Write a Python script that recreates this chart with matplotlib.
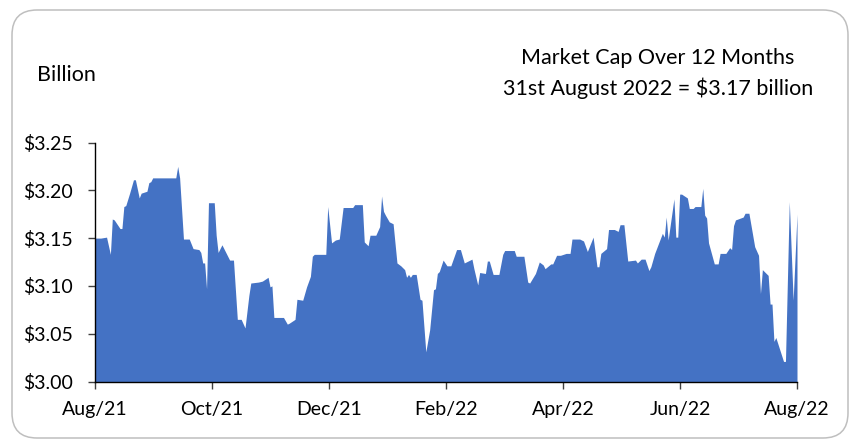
import numpy as np
import matplotlib
matplotlib.use("Agg")
import matplotlib.pyplot as plt
from matplotlib.patches import FancyBboxPatch

plt.rcParams['font.family'] = ['Lato', 'DejaVu Sans']

# Day offset from 31 Aug 2021 and market cap ($ billion)
days = [0, 3, 6, 8, 9, 10, 13, 14, 15, 16, 18, 20, 21, 23, 24, 27, 28, 29, 30, 42,
        43, 44, 46, 49, 51, 54, 55, 56, 57, 58, 59, 62, 63, 64, 66, 70, 72, 74, 76, 78,
        80, 81, 85, 87, 90, 91, 92, 93, 98, 100, 101, 104, 105, 108, 110, 112, 113, 114, 120, 121,
        123, 125, 127, 129, 134, 135, 139, 140, 142, 143, 146, 148, 149, 150, 151, 153, 155, 157, 159, 161,
        162, 163, 164, 165, 167, 169, 170, 172, 174, 176, 177, 178, 179, 181, 183, 185, 188, 190, 192, 196,
        197, 199, 200, 203, 204, 205, 207, 210, 212, 213, 218, 219, 223, 225, 226, 229, 231, 233, 234, 237,
        238, 240, 242, 245, 247, 248, 252, 254, 256, 259, 261, 262, 263, 266, 267, 270, 272, 273, 275, 277,
        281, 282, 284, 286, 288, 289, 291, 295, 296, 297, 298, 301, 302, 303, 304, 305, 308, 309, 311, 312,
        315, 316, 317, 318, 319, 322, 324, 325, 328, 330, 331, 332, 333, 337, 338, 340, 343, 345, 346, 347,
        350, 351, 352, 353, 354, 358, 359, 361, 363, 365]
cap = [3.150, 3.150, 3.151, 3.133, 3.170, 3.169, 3.160, 3.160, 3.183, 3.184, 3.197, 3.211, 3.211, 3.192, 3.197, 3.199, 3.208, 3.209, 3.213, 3.213,
       3.225, 3.213, 3.149, 3.149, 3.139, 3.138, 3.135, 3.124, 3.124, 3.097, 3.187, 3.187, 3.153, 3.135, 3.143, 3.127, 3.127, 3.065, 3.065, 3.056,
       3.090, 3.103, 3.104, 3.105, 3.109, 3.099, 3.100, 3.067, 3.067, 3.060, 3.061, 3.065, 3.086, 3.085, 3.099, 3.110, 3.131, 3.133, 3.133, 3.183,
       3.145, 3.148, 3.149, 3.182, 3.182, 3.185, 3.185, 3.146, 3.142, 3.153, 3.153, 3.162, 3.194, 3.178, 3.174, 3.167, 3.165, 3.124, 3.121, 3.117,
       3.109, 3.112, 3.109, 3.112, 3.112, 3.086, 3.085, 3.031, 3.054, 3.096, 3.097, 3.113, 3.115, 3.127, 3.121, 3.121, 3.138, 3.138, 3.124, 3.128,
       3.118, 3.101, 3.114, 3.113, 3.126, 3.126, 3.112, 3.112, 3.133, 3.137, 3.137, 3.131, 3.131, 3.104, 3.103, 3.113, 3.125, 3.122, 3.118, 3.123,
       3.123, 3.132, 3.132, 3.134, 3.134, 3.149, 3.149, 3.147, 3.136, 3.151, 3.120, 3.120, 3.134, 3.139, 3.159, 3.159, 3.157, 3.164, 3.164, 3.126,
       3.127, 3.124, 3.128, 3.128, 3.116, 3.120, 3.134, 3.155, 3.151, 3.172, 3.148, 3.191, 3.151, 3.151, 3.196, 3.196, 3.192, 3.181, 3.181, 3.183,
       3.183, 3.202, 3.174, 3.171, 3.145, 3.123, 3.123, 3.134, 3.134, 3.140, 3.138, 3.163, 3.169, 3.172, 3.176, 3.176, 3.141, 3.132, 3.092, 3.117,
       3.111, 3.081, 3.081, 3.042, 3.046, 3.021, 3.021, 3.188, 3.085, 3.175]

x_labels = ["Aug/21", "Oct/21", "Dec/21", "Feb/22", "Apr/22", "Jun/22", "Aug/22"]
y_ticks = [3.00, 3.05, 3.10, 3.15, 3.20, 3.25]
title_lines = ["Market Cap Over 12 Months", "31st August 2022 = $3.17 billion"]

W, H = 854, 441
fig = plt.figure(figsize=(W / 100, H / 100), dpi=100)

# rounded border box (in inches)
box = FancyBboxPatch((12 / 100, 3 / 100), 836 / 100, 428 / 100,
                     boxstyle="round,pad=0,rounding_size=0.25",
                     transform=fig.dpi_scale_trans, facecolor="none",
                     edgecolor="#BFBFBF", linewidth=1.1, zorder=-1)
fig.patches.append(box)

ax = fig.add_axes([95 / W, (H - 381.5) / H, 702 / W, 239 / H])
ax.set_facecolor("none")
ax.fill_between(days, cap, 3.0, color="#4472C4", linewidth=0)

ax.set_xlim(0, 365)
ax.set_ylim(3.00, 3.25)
ax.set_xticks(np.linspace(0, 365, len(x_labels)))
ax.set_xticklabels(x_labels)
ax.set_yticks(y_ticks)
ax.set_yticklabels([f"${v:.2f}" for v in y_ticks])

for s in ["top", "right"]:
    ax.spines[s].set_visible(False)
for s in ["left", "bottom"]:
    ax.spines[s].set_color("black")
    ax.spines[s].set_linewidth(1.0)
ax.tick_params(axis="y", direction="out", length=5, width=1, color="#404040",
               labelsize=14, pad=11, labelcolor="black")
ax.tick_params(axis="x", direction="out", length=5, width=1, color="#404040",
               labelsize=14, pad=9, labelcolor="black")

fig.text(37 / W, 1 - 75 / H, "Billion", fontsize=15.5, ha="left", va="center")
fig.text(658 / W, 1 - 58 / H, title_lines[0], fontsize=15.5, ha="center", va="center")
fig.text(658 / W, 1 - 88 / H, title_lines[1], fontsize=15.5, ha="center", va="center")

fig.savefig("out.png", dpi=100)
